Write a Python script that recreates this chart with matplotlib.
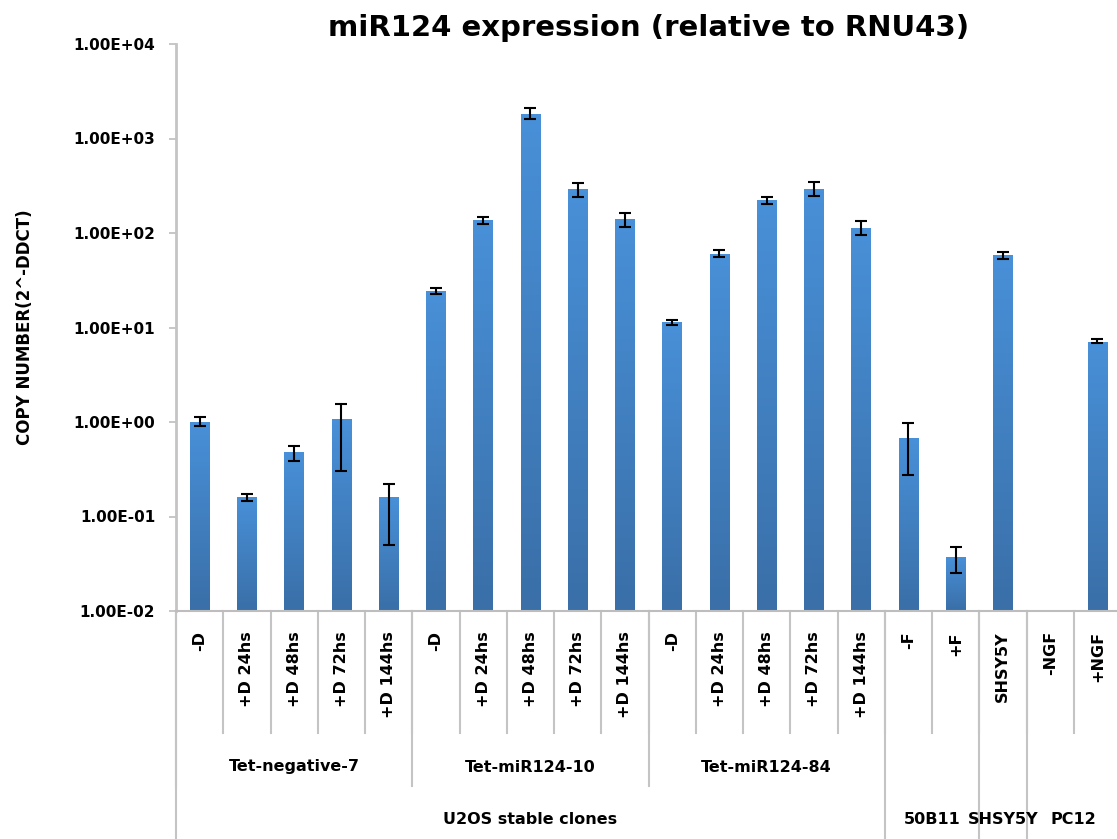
import numpy as np
import matplotlib
matplotlib.use("Agg")
import matplotlib.pyplot as plt
from matplotlib.ticker import FixedLocator, FuncFormatter
from matplotlib.colors import LinearSegmentedColormap

plt.rcParams['font.family'] = ['DejaVu Sans']
plt.rcParams['font.weight'] = 'bold'

# category labels (level 1), clone / cell line groups (levels 2 and 3)
conditions = ['-D', '+D 24hs', '+D 48hs', '+D 72hs', '+D 144hs',
              '-D', '+D 24hs', '+D 48hs', '+D 72hs', '+D 144hs',
              '-D', '+D 24hs', '+D 48hs', '+D 72hs', '+D 144hs',
              '-F', '+F', 'SHSY5Y', '-NGF', '+NGF']
clones = ['Tet-negative-7', 'Tet-miR124-10', 'Tet-miR124-84']
clone_sizes = [5, 5, 5]
lines_l3 = ['U2OS stable clones', '50B11', 'SHSY5Y', 'PC12']
line_sizes = [15, 2, 1, 2]

values = [1.0, 0.16, 0.48, 1.08, 0.16,
          24.3, 136, 1800, 293, 141,
          11.3, 60.5, 221, 293, 114,
          0.68, 0.037, 58, np.nan, 7.1]
err_low = [0.90, 0.147, 0.39, 0.30, 0.050,
           22.6, 125, 1600, 239, 116,
           10.5, 56, 203, 249, 95,
           0.277, 0.0255, 53.7, np.nan, 6.84]
err_high = [1.12, 0.174, 0.56, 1.55, 0.22,
            26.4, 147, 2080, 339, 164,
            12.1, 66, 239, 347, 134,
            0.97, 0.047, 63, np.nan, 7.48]

W, H = 1117, 839
fig = plt.figure(figsize=(W / 100, H / 100), dpi=100)
ax_l, ax_r, ax_t, ax_b = 176, 1121, 44, 611
ax = fig.add_axes([ax_l / W, (H - ax_b) / H, (ax_r - ax_l) / W, (ax_b - ax_t) / H])

x = np.arange(len(values))
vals = np.array(values)
yerr = [vals - np.array(err_low), np.array(err_high) - vals]

ax.set_yscale('log')
ax.set_ylim(1e-2, 1e4)
ax.set_xlim(-0.5, len(values) - 0.5)

bars = ax.bar(x, vals, width=0.41, color='#4285cf', linewidth=0, zorder=2)

# excel-like vertical shading inside each bar
grad = LinearSegmentedColormap.from_list('bar', ['#3a6fa8', '#4890d8'])
to_axes = ax.transScale + ax.transLimits
for b in bars:
    h = b.get_height()
    if not np.isfinite(h):
        continue
    (x0, y0), (x1, y1) = to_axes.transform([(b.get_x(), 1e-2), (b.get_x() + b.get_width(), h)])
    img = ax.imshow(np.linspace(0, 1, 100).reshape(-1, 1), cmap=grad, origin='lower',
                    extent=[x0, x1, y0, y1], transform=ax.transAxes, aspect='auto',
                    zorder=2.1, interpolation='bilinear')
    img.set_clip_path(b)
ax.set_xlim(-0.5, len(values) - 0.5)
ax.set_ylim(1e-2, 1e4)

ax.errorbar(x, vals, yerr=yerr, fmt='none', ecolor='black', elinewidth=1.5,
            capsize=4, capthick=1.5, zorder=3)

ax.yaxis.set_major_locator(FixedLocator([10.0 ** k for k in range(-2, 5)]))
ax.yaxis.set_minor_locator(FixedLocator([]))
ax.yaxis.set_major_formatter(FuncFormatter(lambda v, p: f"{v:.2E}"))
ax.tick_params(axis='y', length=5, width=1.2, color='#bdbdbd', labelsize=11, pad=10)
ax.set_xticks([])

for s in ['top', 'right']:
    ax.spines[s].set_visible(False)
ax.spines['left'].set_color('#c4c4c4')
ax.spines['left'].set_linewidth(2)
ax.spines['bottom'].set_color('#bdbdbd')
ax.spines['bottom'].set_linewidth(1.5)

ax.set_title('miR124 expression (relative to RNU43)', fontsize=21, fontweight='bold', pad=6)
ax.set_ylabel('COPY NUMBER(2^-DDCT)', fontsize=12, fontweight='bold', labelpad=28)

# hierarchical category axis
tr = ax.get_xaxis_transform()
ph = ax_b - ax_t
def fy(py):
    return (ax_b - py) / ph

y1, y2, y3 = fy(733), fy(786), fy(H + 5)
sep = dict(color='#c4c4c4', lw=1.5, clip_on=False, transform=tr)

for i, lab in enumerate(conditions):
    ax.text(i, fy(631), lab, rotation=90, ha='center', va='top', fontsize=11.5,
            fontweight='bold', transform=tr)

# level 1 separators
for b in np.arange(0.5, len(values) - 0.5):
    ax.plot([b, b], [0, y1], **sep)

# level 2 boundaries inside the U2OS block
start = -0.5
for name, n in zip(clones, clone_sizes):
    ax.text(start + n / 2, fy(767), name, ha='center', va='center', fontsize=11.5,
            fontweight='bold', transform=tr)
    ax.plot([start, start], [0, y2], **sep)
    start += n

# level 3 boundaries
start = -0.5
for name, n in zip(lines_l3, line_sizes):
    ax.text(start + n / 2, fy(820), name, ha='center', va='center', fontsize=11.5,
            fontweight='bold', transform=tr)
    ax.plot([start, start], [0, y3], **sep)
    start += n

fig.savefig('out.png', dpi=100)
